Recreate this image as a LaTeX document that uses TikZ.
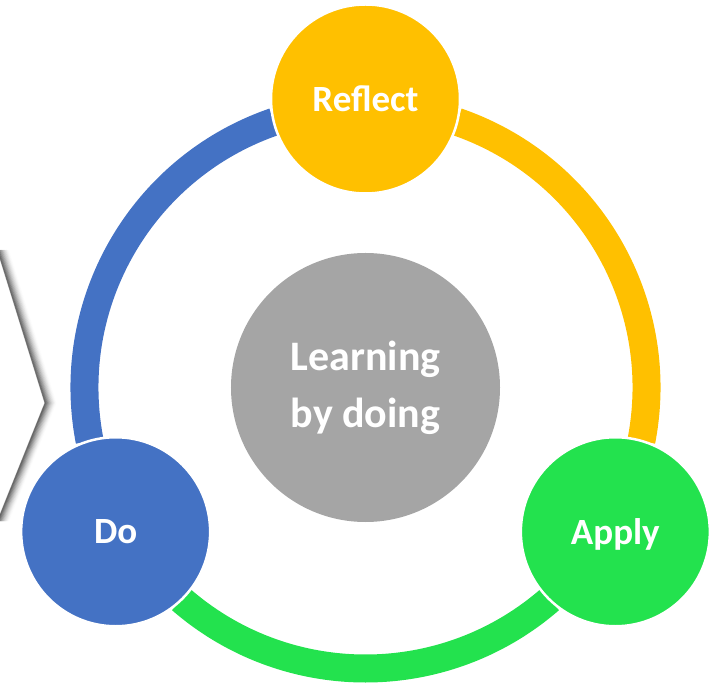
\documentclass[tikz,border=0pt]{standalone}
\usepackage{fontspec}
\setmainfont{Carlito}
\definecolor{cblue}{HTML}{4472C4}
\definecolor{cyellow}{HTML}{FFC000}
\definecolor{cgreen}{HTML}{23E24E}
\definecolor{cgray}{HTML}{A5A5A5}
\begin{document}
\begin{tikzpicture}[x=1bp,y=1bp,
  stage/.style={circle, minimum size=189bp, inner sep=0pt, draw=white, line width=2.5bp,
    text=white, font=\fontsize{37bp}{44bp}\selectfont\bfseries, text depth=0pt},
  hubstyle/.style={circle, minimum size=269bp, inner sep=0pt, fill=cgray, text=white,
    align=center, font=\fontsize{42bp}{57bp}\selectfont\bfseries},
  ringarc/.style={line width=28bp},
  shadowline/.style={line width=1bp, black, line join=miter}]
\useasboundingbox (-365.5,-298.5) rectangle (350.5,387.5);
% chevron with soft shadow on the left edge
\coordinate (chtop) at (-368,137.5);
\coordinate (chtip) at (-320.5,-15.5);
\coordinate (chbot) at (-368,-133.7);
\foreach \i in {0,...,20}{
  \pgfmathsetmacro\op{0.42*(1-\i/21)^2}
  \draw[shadowline, opacity=\op] ([xshift=\i*0.6bp]chtop) -- ([xshift=\i*0.6bp]chtip) -- ([xshift=\i*0.6bp]chbot);
}
% ring arcs
\coordinate (bstart) at (191:281bp);
\coordinate (ystart) at (71:281bp);
\coordinate (gstart) at (-49:281bp);
\draw[ringarc, cblue] (bstart) arc[start angle=191, end angle=109, radius=281bp];
\draw[ringarc, cyellow] (ystart) arc[start angle=71, end angle=-11, radius=281bp];
\draw[ringarc, cgreen] (gstart) arc[start angle=-49, end angle=-131, radius=281bp];
% hub
\node[hubstyle] (hub) at (0,0) {Learning\\by doing};
% stages
\node[stage, fill=cyellow] (reflect) at (90:288.5bp) {Reflect};
\node[stage, fill=cblue] (do) at (210:288.5bp) {Do};
\node[stage, fill=cgreen] (apply) at (-30:288.5bp) {Apply};
\end{tikzpicture}
\end{document}
